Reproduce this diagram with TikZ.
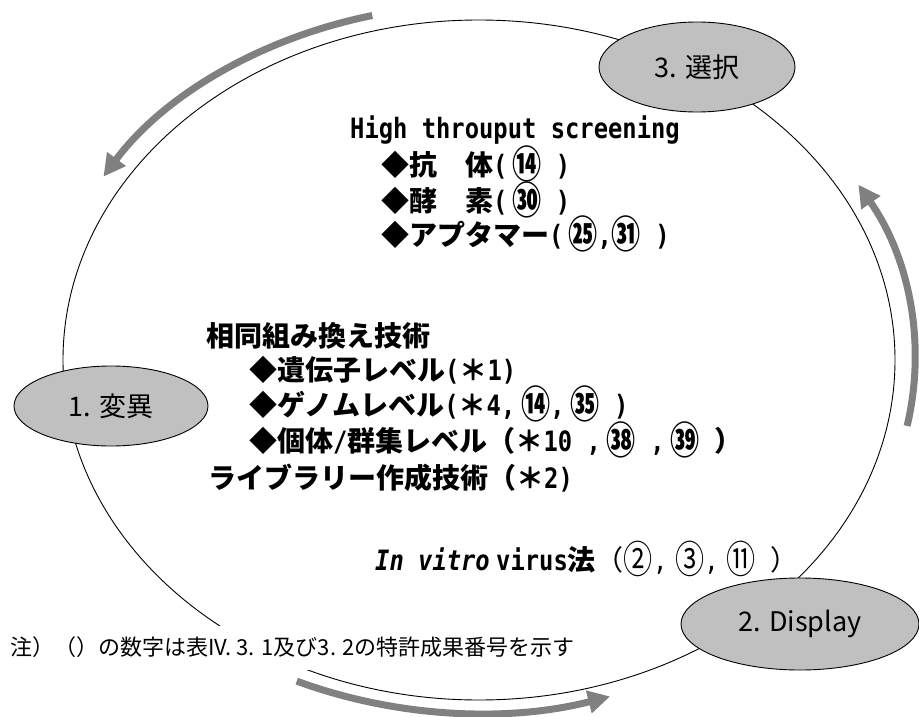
\documentclass[tikz,border=0pt]{standalone}
\usepackage{fontspec}
\usepackage{graphicx}
\setmainfont{Noto Sans CJK JP}
\newfontfamily\jp{Noto Sans CJK JP}
\newfontfamily\mono[FakeStretch=0.85]{DejaVu Sans Mono}
\usetikzlibrary{shapes.geometric,arrows.meta}
\definecolor{nodegray}{RGB}{192,192,192}
\definecolor{arrowgray}{RGB}{128,128,128}
\newcommand\latb[1]{{\mono\bfseries #1}}
\newcommand\latr[1]{{\mono\mdseries #1}}
\newcommand\cn[1]{\raisebox{-0.11em}{\scalebox{1.04}[1.37]{#1}}}
\tikzset{
  cyc/.style={ellipse, draw=black, line width=0.9pt, inner sep=0pt},
  stage/.style={ellipse, draw=black, line width=0.9pt, fill=nodegray, inner sep=0pt,
    font=\jp\fontsize{27}{27}\selectfont},
  body/.style={anchor=base west, inner sep=0pt, font=\jp\bfseries\fontsize{28}{28}\selectfont},
  notebox/.style={anchor=base west, fill=white, inner xsep=3pt, inner ysep=10pt,
    text height=19pt, text depth=5pt, font=\jp\fontsize{22}{22}\selectfont},
  flow/.style={draw=arrowgray, line width=7pt, -{Triangle[length=22pt,width=22pt]}}
}
\begin{document}
\begin{tikzpicture}[x=1pt,y=-1pt]
\fill[white] (0,0) rectangle (919,717);
\useasboundingbox (0,0) rectangle (919,717);

% main cycle
\node[cyc, minimum width=832pt, minimum height=680pt] (cycle) at (479,360) {};

% note (white box hides part of the cycle)
\node[notebox] (note) at (7,655) {注）（）の数字は表IV. 3. 1及び3. 2の特許成果番号を示す};

% stages
\node[stage, minimum width=194pt, minimum height=80pt] (mut) at (111,406) {1. 変異};
\node[stage, minimum width=238pt, minimum height=92pt] (disp) at (800,624) {2. Display};
\node[stage, minimum width=196pt, minimum height=90pt] (sel) at (697,67) {3. 選択};

% text block
\node[body] (hts) at (350,138) {\latb{High throuput screening}};
\node[body] (ab) at (381,175) {◆抗　体\latb{(}\hspace{5pt}\cn{⑭}\latb{ )}};
\node[body] (enz) at (381,211) {◆酵　素\latb{(}\hspace{5pt}\cn{㉚}\latb{ )}};
\node[body] (apt) at (381,245) {◆アプタマー\latb{(}\hspace{5pt}\cn{㉕}\latb{,}\cn{㉛}\latb{ )}};
\node[body] (hr) at (206,346) {相同組み換え技術};
\node[body] (gene) at (249,380) {◆遺伝子レベル\latb{(}＊\latb{1)}};
\node[body] (genome) at (249,415) {◆ゲノムレベル\latb{(}＊\latb{4,}\hspace{6pt}\cn{⑭}\latb{,}\hspace{6pt}\cn{㉟}\latb{ )}};
\node[body] (pop) at (249,451) {◆個体\latb{/}群集レベル（＊\latb{10 ,}\hspace{6pt}\cn{㊳}\latb{ ,}\hspace{6pt}\cn{㊴}\latb{ }）};
\node[body] (lib) at (208,488) {ライブラリー作成技術（＊\latb{2)}};
\node[body] (ivv) at (375,570) {{\mono\bfseries\itshape In vitro} \latb{virus}法{\mdseries（\cn{②}\latr{,}\hspace{8pt}\cn{③}\latr{,}\hspace{8pt}\cn{⑪}\latr{ }）}};

% gray flow arrows
\coordinate (gc) at (478,359);
\draw[flow] (gc) ++(104:437pt and 354pt) arc[start angle=104, end angle=149, x radius=437pt, y radius=354pt];
\draw[flow] (gc) ++(-10.9:437pt and 354pt) arc[start angle=-10.9, end angle=29.5, x radius=437pt, y radius=354pt];
\draw[flow] (gc) ++(-114.5:437pt and 354pt) arc[start angle=-114.5, end angle=-72.4, x radius=437pt, y radius=354pt];
\end{tikzpicture}
\end{document}
